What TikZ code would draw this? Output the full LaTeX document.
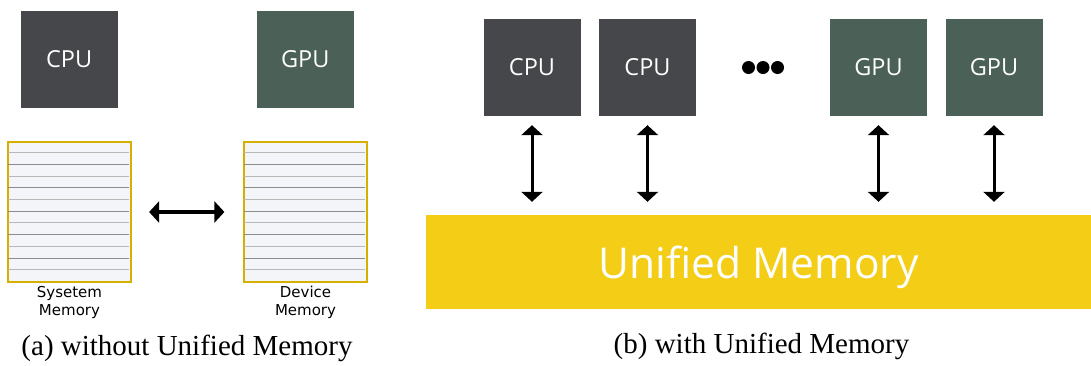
\documentclass[tikz,border=0pt]{standalone}
\usepackage{fontspec}
\setmainfont{Liberation Serif}
\newfontfamily\unitfont{Open Sans}
\newfontfamily\lblfont{DejaVu Sans}
\usepackage{tikz}
\usetikzlibrary{positioning,arrows.meta}
\definecolor{cpugray}{HTML}{46474B}
\definecolor{gpugreen}{HTML}{4B6057}
\definecolor{umyellow}{HTML}{F3CD16}
\definecolor{memedge}{HTML}{D6B000}
\definecolor{memfill}{HTML}{F4F5F8}

\begin{document}
\begin{tikzpicture}[x=1pt, y=-1pt,
  unit/.style = {minimum width=97pt, minimum height=97pt, inner sep=0pt, text=white,
                 font=\unitfont\fontsize{23.5}{28}\selectfont},
  cpu/.style  = {unit, fill=cpugray},
  gpu/.style  = {unit, fill=gpugreen},
  bank/.style = {draw=memedge, line width=1.8pt, fill=memfill, minimum width=122.4pt,
                 minimum height=140.6pt, inner sep=0pt},
  row/.style  = {line width=0.9pt},
  lbl/.style  = {font=\lblfont\fontsize{15}{18}\selectfont, align=center, inner sep=0pt},
  capt/.style = {font=\fontsize{29}{34}\selectfont, anchor=base, inner sep=0pt},
  lnk/.style  = {{Triangle[length=10pt,width=21pt]}-{Triangle[length=10pt,width=21pt]},
                 line width=3pt},
  dot/.style  = {circle, fill=black, minimum size=13pt, inner sep=0pt}
]
\useasboundingbox (0,0) rectangle (1091,365);

% --- (a) : memoires separees ---
\node[cpu] (cpu) at (69.2,59.3) {CPU};
\node[gpu] (gpu) at (305.2,59.3) {GPU};
\node[bank] (sysmem) at (69.5,212) {};
\node[bank] (devmem) at (305.5,212) {};
\foreach \m in {sysmem,devmem} {
  \foreach \k in {1,3,...,11} { \draw[row, gray!55] (\m.north west) ++(0.9,\k*11.72) -- ++(120.6,0); }
  \foreach \k in {2,4,...,10} { \draw[row, gray!90] (\m.north west) ++(0.9,\k*11.72) -- ++(120.6,0); }
}
\node[lbl, below=3pt of sysmem] (syslbl) {Sysetem\\Memory};
\node[lbl, below=3pt of devmem] (devlbl) {Device\\Memory};
\draw[lnk, line width=3.6pt, shorten <=17.5pt, shorten >=19pt] (sysmem.east) -- (devmem.west);
\node[capt] (capa) at (187,355) {(a) without Unified Memory};

% --- (b) : memoire unifiee ---
\node[cpu] (cpuA) at (532,67.5) {CPU};
\node[cpu] (cpuB) at (647.5,67.5) {CPU};
\node[gpu] (gpuA) at (878.5,67.5) {GPU};
\node[gpu] (gpuB) at (994,67.5) {GPU};
\foreach \i/\dx in {1/-14.5,2/0,3/14.5} { \node[dot] (dot\i) at (763+\dx,67.5) {}; }
\node[fill=umyellow, minimum width=665pt, minimum height=94pt, inner sep=0pt, text depth=0pt,
      text=white, font=\unitfont\fontsize{42.5}{50}\selectfont] (umem) at (758.5,262) {Unified Memory};
\foreach \u in {cpuA,cpuB,gpuA,gpuB} {
  \draw[lnk, shorten <=9pt, shorten >=13pt] (\u.south) -- (\u.south |- umem.north);
}
\node[capt] (capb) at (761.5,353.5) {(b) with Unified Memory};
\end{tikzpicture}
\end{document}
